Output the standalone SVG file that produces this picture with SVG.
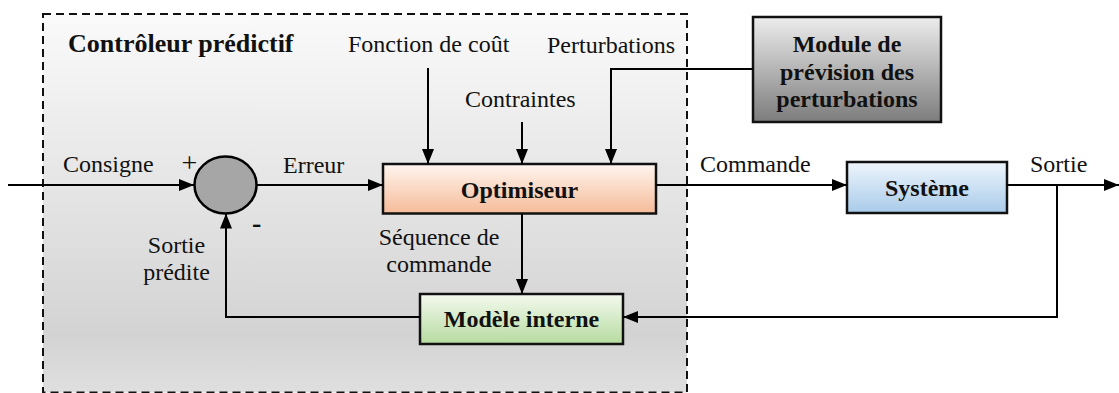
<svg xmlns="http://www.w3.org/2000/svg" width="1119" height="393" viewBox="0 0 1119 393" font-family="'Liberation Serif', 'DejaVu Serif', serif">
<defs>
  <linearGradient id="gCtrl" x1="0" y1="0" x2="0" y2="1">
    <stop offset="0" stop-color="#fafafa"/>
    <stop offset="0.85" stop-color="#d3d3d3"/>
    <stop offset="1" stop-color="#dfdfdf"/>
  </linearGradient>
  <linearGradient id="gOpt" x1="0" y1="0" x2="0" y2="1">
    <stop offset="0" stop-color="#fff6f0"/>
    <stop offset="1" stop-color="#f5bb98"/>
  </linearGradient>
  <linearGradient id="gSys" x1="0" y1="0" x2="0" y2="1">
    <stop offset="0" stop-color="#eef5fb"/>
    <stop offset="1" stop-color="#a9cbea"/>
  </linearGradient>
  <linearGradient id="gMod" x1="0" y1="0" x2="0" y2="1">
    <stop offset="0" stop-color="#f3faee"/>
    <stop offset="1" stop-color="#b6dba0"/>
  </linearGradient>
  <linearGradient id="gPrev" x1="0" y1="0" x2="0" y2="1">
    <stop offset="0" stop-color="#ededed"/>
    <stop offset="1" stop-color="#7c7c7c"/>
  </linearGradient>
  <marker id="arr" markerUnits="userSpaceOnUse" markerWidth="15" markerHeight="12" refX="15" refY="6" orient="auto">
    <path d="M0,0 L15,6 L0,12 z" fill="#000"/>
  </marker>
</defs>
<style>
  text { font-family: 'Liberation Serif', 'DejaVu Serif', serif; }
  .t { font-size: 24px; fill: #111; }
  .b { font-size: 24px; font-weight: bold; fill: #111; }
  .title { font-size: 26px; }
  .box { stroke: #111; stroke-width: 2.5; }
  .ca { fill: none; stroke: #000; stroke-width: 2; marker-end: url(#arr); }
</style>

<g id="controleur">
  <rect x="43" y="14" width="644" height="378.5" fill="url(#gCtrl)" stroke="#111" stroke-width="2" stroke-dasharray="8,5"/>
  <text class="b title" x="68" y="52">Contrôleur prédictif</text>
</g>

<g id="sommateur">
  <ellipse cx="225.5" cy="185" rx="31" ry="28.5" fill="#a6a6a6" stroke="#000" stroke-width="2.5"/>
  <text class="t" x="189.5" y="172" text-anchor="middle" style="font-size:28px">+</text>
  <text class="b" x="252" y="232" style="font-size:28px">-</text>
</g>

<g id="optimiseur">
  <rect class="box" x="383" y="164" width="273" height="49.5" fill="url(#gOpt)"/>
  <text class="b" x="519.5" y="198" text-anchor="middle">Optimiseur</text>
</g>

<g id="modele">
  <rect class="box" x="420" y="294" width="203" height="50" fill="url(#gMod)"/>
  <text class="b" x="521.5" y="327" text-anchor="middle">Modèle interne</text>
</g>

<g id="systeme">
  <rect class="box" x="847" y="162" width="160" height="51" fill="url(#gSys)"/>
  <text class="b" x="927" y="195.5" text-anchor="middle">Système</text>
</g>

<g id="prevision">
  <rect class="box" x="753" y="17" width="188" height="105" fill="url(#gPrev)"/>
  <text class="b" x="847" y="52" text-anchor="middle">Module de</text>
  <text class="b" x="847" y="80" text-anchor="middle">prévision des</text>
  <text class="b" x="847" y="107" text-anchor="middle">perturbations</text>
</g>

<g id="connecteurs">
  <line class="ca" x1="8" y1="185" x2="194" y2="185"/>
  <line class="ca" x1="257" y1="185" x2="383" y2="185"/>
  <line class="ca" x1="428" y1="68" x2="428" y2="164"/>
  <line class="ca" x1="522" y1="122" x2="522" y2="164"/>
  <path class="ca" d="M753,69 L611,69 L611,164"/>
  <line class="ca" x1="656" y1="185" x2="847" y2="185"/>
  <line class="ca" x1="1007" y1="185" x2="1119" y2="185"/>
  <path class="ca" d="M1057,185 L1057,317 L623,317"/>
  <line class="ca" x1="522" y1="213.5" x2="522" y2="294"/>
  <path class="ca" d="M420,317 L226,317 L226,213.5"/>
</g>

<g id="labels">
  <text class="t" x="348" y="52">Fonction de coût</text>
  <text class="t" x="547" y="53">Perturbations</text>
  <text class="t" x="465" y="107">Contraintes</text>
  <text class="t" x="63" y="172">Consigne</text>
  <text class="t" x="283" y="173">Erreur</text>
  <text class="t" x="176.5" y="253" text-anchor="middle">Sortie</text>
  <text class="t" x="176.5" y="280" text-anchor="middle">prédite</text>
  <text class="t" x="439" y="245" text-anchor="middle">Séquence de</text>
  <text class="t" x="439" y="272" text-anchor="middle">commande</text>
  <text class="t" x="700" y="172">Commande</text>
  <text class="t" x="1030" y="172">Sortie</text>
</g>
</svg>
